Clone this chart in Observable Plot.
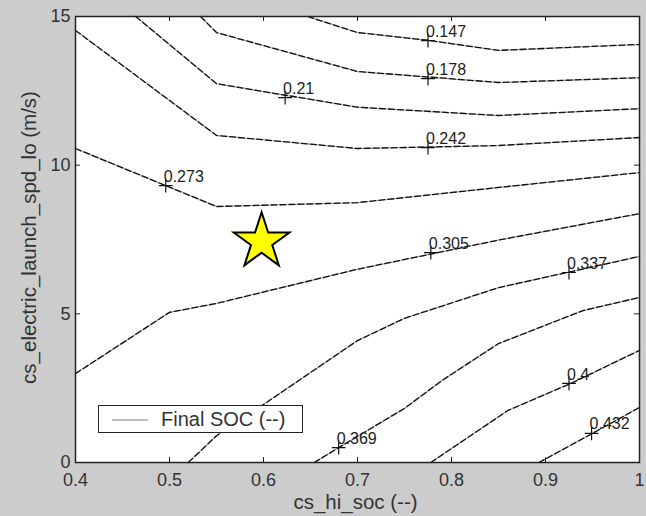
<!DOCTYPE html>
<html>
<head>
<meta charset="utf-8">
<script src="https://cdn.jsdelivr.net/npm/d3@7"></script>
<script src="https://cdn.jsdelivr.net/npm/@observablehq/plot@0.6"></script>
<style>
  html, body { margin: 0; padding: 0; background: #cccccc; }
  #wrap { position: relative; width: 646px; height: 516px; background: #cccccc; font-family: "Liberation Sans", Arial, sans-serif; }
  #legend { position: absolute; left: 98px; top: 405px; width: 203px; height: 26px; background: #fff; border: 1.5px solid #222; }
  #legend .sw { position: absolute; left: 13px; top: 13px; width: 36px; height: 0; border-top: 2.5px solid #bdbdbd; }
  #legend .lb { position: absolute; left: 62px; top: 2px; font-size: 20px; color: #333; line-height: 22px; white-space: nowrap; }
</style>
</head>
<body>
<div id="wrap"><div id="legend"><div class="sw"></div><div class="lb" id="legendText"></div></div></div>
<script>
// ---- data (x = cs_hi_soc, y = cs_electric_launch_spd_lo) ----
const levels = [0.147, 0.178, 0.21, 0.242, 0.273, 0.305, 0.337, 0.369, 0.4, 0.432];
const levelText = ["0.147", "0.178", "0.21", "0.242", "0.273", "0.305", "0.337", "0.369", "0.4", "0.432"];

const c147 = [[0.647, 15], [0.70, 14.46], [0.775, 14.2], [0.85, 13.86], [1.0, 14.06]];
const c178 = [[0.533, 15], [0.55, 14.46], [0.70, 13.15], [0.85, 12.78], [1.0, 12.94]];
const c210 = [[0.464, 15], [0.55, 12.74], [0.70, 11.95], [0.85, 11.67], [1.0, 11.9]];
const c242 = [[0.40, 14.53], [0.55, 11.0], [0.70, 10.56], [0.85, 10.66], [1.0, 10.93]];
const c273 = [[0.40, 10.56], [0.55, 8.61], [0.70, 8.74], [0.85, 9.25], [1.0, 9.75]];
const c305 = [[0.40, 2.99], [0.50, 5.05], [0.55, 5.35], [0.70, 6.5], [0.85, 7.48], [1.0, 8.37]];
const c337 = [[0.52, 0], [0.55, 0.9], [0.60, 1.95], [0.70, 4.1], [0.75, 4.85], [0.85, 5.88], [1.0, 6.93]];
const c369 = [[0.654, 0], [0.68, 0.5], [0.75, 1.82], [0.79, 2.76], [0.85, 4.0], [0.94, 5.11], [1.0, 5.55]];
const c400 = [[0.778, 0], [0.86, 1.75], [0.927, 2.66], [1.0, 3.77]];
const c432 = [[0.893, 0], [0.95, 0.98], [1.0, 1.85]];
const contours = [c147, c178, c210, c242, c273, c305, c337, c369, c400, c432];

// label anchor points on each contour (clabel "+" positions)
const labelX = [0.775, 0.775, 0.623, 0.775, 0.496, 0.778, 0.925, 0.68, 0.925, 0.949];
const labelY = [14.19, 12.91, 12.27, 10.59, 9.31, 7.06, 6.39, 0.5, 2.66, 0.98];

const starPoint = {x: 0.598, y: 7.43};

const xTicks = [0.4, 0.5, 0.6, 0.7, 0.8, 0.9, 1.0];
const xTickLabels = ["0.4", "0.5", "0.6", "0.7", "0.8", "0.9", "1"];
const yTicks = [0, 5, 10, 15];
const yTickLabels = ["0", "5", "10", "15"];

const xLabel = "cs_hi_soc (--)";
const yLabel = "cs_electric_launch_spd_lo (m/s)";
const legendLabel = "Final SOC (--)";

// ---- build tables ----
const lineRows = contours.flatMap((pts, i) => pts.map(([x, y]) => ({level: levels[i], x, y})));
const labelRows = levels.map((lv, i) => ({x: labelX[i], y: labelY[i], text: levelText[i]}));

const W = 646, H = 516;
const mL = 75, mR = 7, mT = 16, mB = 54;
const fw = W - mL - mR, fh = H - mT - mB;
const tick = 5;
const font = "Liberation Sans, Arial, sans-serif";

const chart = Plot.plot({
  width: W, height: H,
  marginLeft: mL, marginRight: mR, marginTop: mT, marginBottom: mB,
  style: {background: "#cccccc", fontFamily: font, overflow: "visible"},
  x: {domain: [0.4, 1.0]},
  y: {domain: [0, 15]},
  marks: [
    Plot.frame({fill: "white", stroke: null}),
    // contour lines: gray base with black dashes (MATLAB '--' look)
    Plot.line(lineRows, {x: "x", y: "y", z: "level", stroke: "#bcbcbc", strokeWidth: 1.4}),
    Plot.line(lineRows, {x: "x", y: "y", z: "level", stroke: "#111", strokeWidth: 1.3, strokeDasharray: "6,3"}),
    // contour labels
    Plot.dot(labelRows, {x: "x", y: "y", symbol: "plus", r: 4.5, stroke: "#111", strokeWidth: 1.2}),
    Plot.text(labelRows, {x: "x", y: "y", text: "text", textAnchor: "start", dx: -2, dy: -9, fontSize: 16, fill: "#222"}),
    // star
    Plot.dot([starPoint], {x: "x", y: "y", symbol: "star", r: 17.5, fill: "#ffff00", stroke: "#000", strokeWidth: 2}),
    // inward ticks on all four sides
    Plot.tickX(xTicks, {x: d => d, insetTop: fh - tick, stroke: "#222"}),
    Plot.tickX(xTicks, {x: d => d, insetBottom: fh - tick, stroke: "#222"}),
    Plot.tickY(yTicks, {y: d => d, insetRight: fw - tick, stroke: "#222"}),
    Plot.tickY(yTicks, {y: d => d, insetLeft: fw - tick, stroke: "#222"}),
    Plot.frame({stroke: "#222", strokeWidth: 1.5}),
    // tick labels
    Plot.axisX({ticks: xTicks, tickSize: 0, tickPadding: 11, tickFormat: (d, i) => xTickLabels[i], fontSize: 18, fill: "#333", label: null}),
    Plot.axisY({ticks: yTicks, tickSize: 0, tickPadding: 5, tickFormat: (d, i) => yTickLabels[i], fontSize: 18, fill: "#333", label: null}),
    // axis titles
    Plot.text([xLabel], {frameAnchor: "bottom", dy: 40, dx: -2, textAnchor: "middle", lineAnchor: "middle", text: d => d, fontSize: 20.5, fill: "#333"}),
    Plot.text([yLabel], {frameAnchor: "left", dx: -46, dy: -2, textAnchor: "middle", lineAnchor: "middle", rotate: -90, text: d => d, fontSize: 20.5, fill: "#333"})
  ]
});

const wrap = document.getElementById("wrap");
wrap.insertBefore(chart, wrap.firstChild);
chart.style.position = "absolute";
chart.style.left = "0px";
chart.style.top = "0px";
document.getElementById("legendText").textContent = legendLabel;
</script>
</body>
</html>
